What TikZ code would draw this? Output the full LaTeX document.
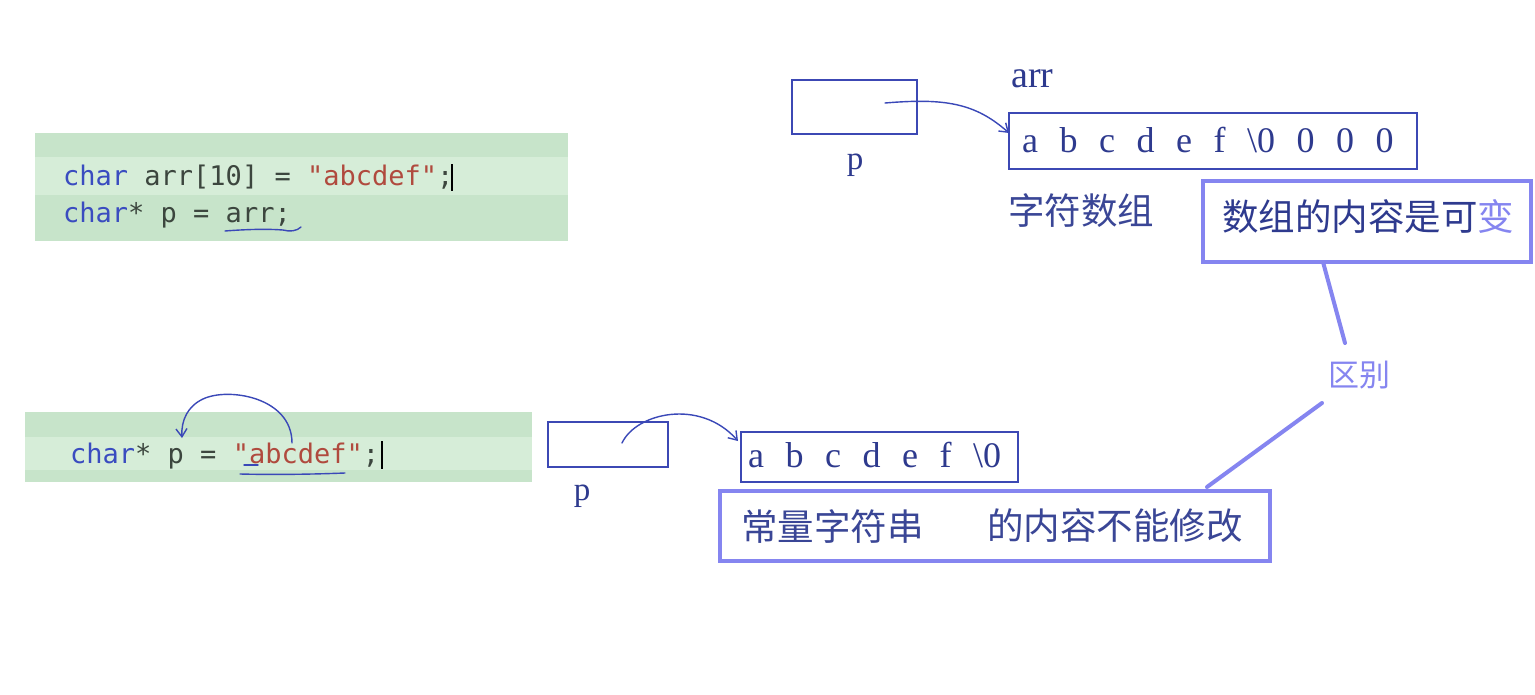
\documentclass[tikz,border=0pt]{standalone}
\usepackage{fontspec}
\setmainfont{Liberation Serif}
\newfontfamily\cjk{Noto Sans CJK SC}
\newfontfamily\codefont{DejaVu Sans Mono}
\usetikzlibrary{arrows.meta}
\definecolor{kw}{HTML}{3A4CC0}
\definecolor{ident}{HTML}{3C463E}
\definecolor{strc}{HTML}{B04A3E}
\definecolor{gdark}{HTML}{C7E4CA}
\definecolor{glight}{HTML}{D6EDD8}
\definecolor{boxblue}{HTML}{3C48B4}
\definecolor{lav}{HTML}{8585F0}
\definecolor{ink}{HTML}{2E3A8E}
\definecolor{cjkink}{HTML}{3A4696}
\definecolor{pen}{HTML}{3A48B8}
\tikzset{
  bgband/.style={fill=#1, draw=none, inner sep=0, anchor=north west},
  code/.style={font=\codefont\fontsize{27}{27}\selectfont, text=ident, inner sep=0, anchor=base west},
  membox/.style={draw=boxblue, line width=2pt, inner sep=0, anchor=north west},
  notebox/.style={draw=lav, line width=4pt, inner sep=0, anchor=north west},
  serif/.style={font=\fontsize{33}{33}\selectfont, text=ink, inner sep=0},
  arrtext/.style={font=\fontsize{36}{36}\selectfont, text=ink, inner sep=0, anchor=base west},
  cjktext/.style={font=\cjk\fontsize{36.5}{36.5}\selectfont, text=cjkink, inner sep=0},
  penline/.style={draw=pen, line width=1.4pt, line cap=round},
  ptr/.style={penline, -{Straight Barb[length=8pt,width=11pt]}},
  link/.style={draw=lav, line width=4pt, line cap=round},
}
\newcommand{\gp}{\hspace{21.5pt}}
\begin{document}
\begin{tikzpicture}[x=1pt,y=-1pt]
\useasboundingbox (0,0) rectangle (1535,694);
\fill[white] (0,0) rectangle (1535,694);

% ---- code block 1
\node[bgband=gdark, minimum width=533, minimum height=108] (code1) at (35,133) {};
\node[bgband=glight, minimum width=533, minimum height=38] (code1hl) at (35,157) {};
\node[code] (c1a) at (63,185) {\textcolor{kw}{char} arr[10] = \textcolor{strc}{"abcdef"};};
\node[code] (c1b) at (63,222) {\textcolor{kw}{char}* p = arr;};
\draw[black, line width=1.6pt] (452,164) -- (452,191);
\draw[penline] (225,231) .. controls (250,229) and (270,229) .. (283,230) .. controls (290,232) and (297,231) .. (301,227);

% ---- code block 2
\node[bgband=gdark, minimum width=507, minimum height=70] (code2) at (25,412) {};
\node[bgband=glight, minimum width=507, minimum height=33] (code2hl) at (25,437) {};
\node[code] (c2a) at (70,463) {\textcolor{kw}{char}* p = \textcolor{strc}{"abcdef"};};
\draw[black, line width=1.6pt] (382,441) -- (382,469);
\coordinate (c2s) at (292,443);
\coordinate (c2e) at (182,438);
\draw[ptr] (c2s) .. controls (292,397) and (228,387) .. (203,399) .. controls (188,406) and (181,420) .. (c2e);
\draw[penline] (240,474) .. controls (280,475) and (320,474) .. (345,473);
\draw[penline] (244,465) -- (258,465);

% ---- top right memory
\node[membox, minimum width=125, minimum height=54] (p1) at (791,79) {};
\node[serif] (p1l) at (855,165) {p};
\node[serif, anchor=base west, font=\fontsize{38}{38}\selectfont] (arrl) at (1011,87) {arr};
\node[membox, minimum width=408, minimum height=56] (arr1) at (1008,112) {};
\node[arrtext] (arr1t) at (1022,152) {a\gp b\gp c\gp d\gp e\gp f\gp \textbackslash 0\gp 0\gp 0\gp 0};
\coordinate (p1s) at (885,103);
\draw[ptr] (p1s) .. controls (945,98) and (975,103) .. (1009,133);
\node[cjktext] (zfsz) at (1081,211) {字符数组};

\node[notebox, minimum width=328, minimum height=81] (note1) at (1201,179) {};
\node[cjktext, text=ink] (note1t) at (1368,217) {数组的内容是可\textcolor{lav}{变}};
\node[cjktext, text=lav, font=\cjk\fontsize{31}{31}\selectfont] (diff) at (1359,375) {区别};
\coordinate (l1a) at (1323,262);
\coordinate (l1b) at (1345,343);
\coordinate (l2a) at (1322,403);
\coordinate (l2b) at (1207,487);
\draw[link] (l1a) -- (l1b);
\draw[link] (l2a) -- (l2b);

% ---- bottom memory
\node[membox, minimum width=120, minimum height=45] (p2) at (547,421) {};
\node[serif] (p2l) at (582,496) {p};
\node[membox, minimum width=277, minimum height=50] (arr2) at (740,431) {};
\node[arrtext] (arr2t) at (748,467) {a\gp b\gp c\gp d\gp e\gp f\gp \textbackslash 0};
\coordinate (p2s) at (622,443);
\draw[ptr] (p2s) .. controls (636,413) and (700,398) .. (738,441);

\node[notebox, minimum width=550, minimum height=70] (note2) at (718,489) {};
\node[cjktext, anchor=west] (note2a) at (741,526) {常量字符串};
\node[cjktext, anchor=west] (note2b) at (987,526) {的内容不能修改};
\end{tikzpicture}
\end{document}
